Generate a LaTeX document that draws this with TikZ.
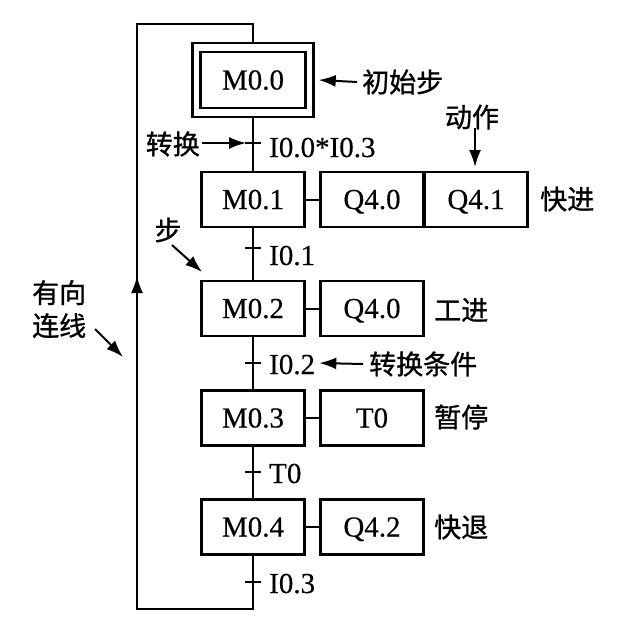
\documentclass[tikz,border=0pt]{standalone}
\usepackage{fontspec}
\setmainfont{Liberation Serif}[FakeBold=0.4]
\newfontfamily\cjk{Noto Sans CJK SC}[FakeBold=1]
\usetikzlibrary{arrows.meta}
\begin{document}
\begin{tikzpicture}[x=1pt,y=-1pt,
  box/.style={draw,line width=2.4pt,minimum width=103pt,minimum height=55pt,inner sep=0pt,text height=19pt,text depth=0pt,font=\fontsize{29}{31}\selectfont},
  lbl/.style={inner sep=0pt,font=\fontsize{29}{31}\selectfont},
  zh/.style={inner sep=0pt,font=\cjk\fontsize{27}{33}\selectfont},
  ln/.style={line width=2pt},
  arr/.style={line width=2pt,-{Latex[length=17pt,width=12pt]}},
]
\useasboundingbox (0,0) rectangle (639,638);
% initial step
\node[box,minimum width=105pt,minimum height=56pt] (m0) at (253,80) {M0.0};
\node[draw,line width=2.4pt,minimum width=121pt,minimum height=74pt,inner sep=0pt] (m0o) at (253,80) {};
% steps and actions
\node[box] (m1) at (253,199.5) {M0.1};
\node[box] (a1) at (372,199.5) {Q4.0};
\node[box] (b1) at (476,199.5) {Q4.1};
\node[box] (m2) at (253,308.5) {M0.2};
\node[box] (a2) at (372,308.5) {Q4.0};
\node[box] (m3) at (253,418) {M0.3};
\node[box] (a3) at (372,418) {T0};
\node[box] (m4) at (253,527) {M0.4};
\node[box] (a4) at (372,527) {Q4.2};
\draw[ln] (m1.east) -- (a1.west);
\draw[ln] (m2.east) -- (a2.west);
\draw[ln] (m3.east) -- (a3.west);
\draw[ln] (m4.east) -- (a4.west);
% main line
\draw[ln] (m0o.south) -- (m1.north);
\draw[ln] (m1.south) -- (m2.north);
\draw[ln] (m2.south) -- (m3.north);
\draw[ln] (m3.south) -- (m4.north);
% transitions
\coordinate (t1) at (253,143);
\coordinate (t2) at (253,248);
\coordinate (t3) at (253,363);
\coordinate (t4) at (253,472);
\coordinate (t5) at (253,582);
\foreach \t in {t1,t2,t3,t4,t5}{\draw[ln] ([xshift=-8pt]\t) -- ([xshift=8pt]\t);}
\node[lbl,anchor=base west] (c1) at (269,157) {I0.0*I0.3};
\node[lbl,anchor=base west] (c2) at (269,265) {I0.1};
\node[lbl,anchor=base west] (c3) at (269,374) {I0.2};
\node[lbl,anchor=base west] (c4) at (269,483) {T0};
\node[lbl,anchor=base west] (c5) at (269,593) {I0.3};
% return loop
\coordinate (bl) at (137,609);
\coordinate (tl) at (137,24);
\coordinate (tr) at (253,24);
\draw[ln] (m4.south) -- (m4.south |- bl) -- (bl) -- (tl) -- (tr) -- (m0o.north);
\coordinate (ua) at (137,300);
\coordinate (ub) at (137,276);
\draw[arr] (ua) -- (ub);
% annotations
\node[zh,anchor=west] (l0) at (362,82) {初始步};
\draw[arr] ([xshift=-5pt]l0.west) -- ([xshift=4pt]m0o.east);
\node[zh,anchor=east] (l1) at (200,144) {转换};
\coordinate (k1) at (246,143);
\draw[arr] ([xshift=2pt]l1.east |- k1) -- (k1);
\node[zh] (l2) at (472,117) {动作};
\coordinate (k2a) at (475,128);
\coordinate (k2b) at (475,167);
\draw[arr] (k2a) -- (k2b);
\node[zh,anchor=west] (l3) at (540,199) {快进};
\node[zh] (l4) at (168,230) {步};
\coordinate (k4a) at (172,245);
\coordinate (k4b) at (202,272);
\draw[arr] (k4a) -- (k4b);
\node[zh,anchor=north west,align=left] (l5) at (32,280) {有向\\连线};
\coordinate (k5a) at (95,329);
\coordinate (k5b) at (123,357);
\draw[arr] (k5a) -- (k5b);
\node[zh,anchor=west] (l6) at (434,310) {工进};
\node[zh,anchor=west] (l7) at (369,364) {转换条件};
\draw[arr] ([xshift=-6pt]l7.west) -- ([xshift=4pt]c3.east |- t3);
\node[zh,anchor=west] (l8) at (434,417) {暂停};
\node[zh,anchor=west] (l9) at (434,527) {快退};
\end{tikzpicture}
\end{document}
